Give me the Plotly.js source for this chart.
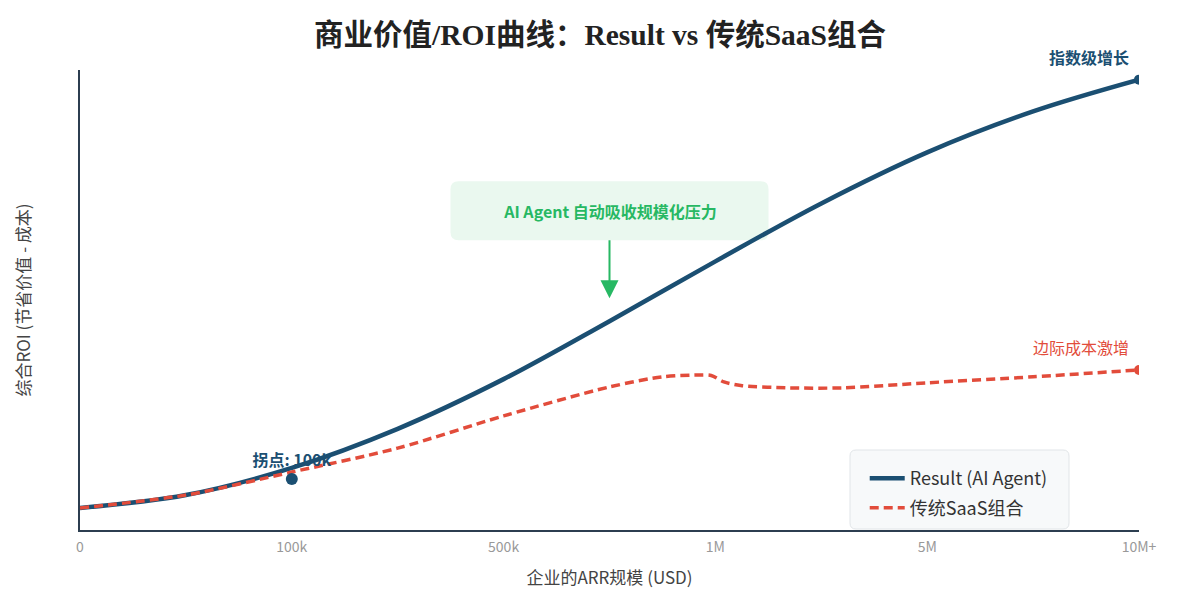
<!DOCTYPE html>
<html><head><meta charset="utf-8">
<script src="https://cdn.plot.ly/plotly-3.0.1.min.js"></script>
<style>html,body{margin:0;padding:0;background:#fff}#chart{width:1200px;height:600px}</style>
</head><body><div id="chart"></div>
<script>
const tickPos = [0, 1, 2, 3, 4, 5];
const tickLabels = ['0', '100k', '500k', '1M', '5M', '10M+'];
const resultX = [0, 0.5, 1, 1.5, 2, 2.5, 3, 3.5, 4, 4.5, 5];
const resultY = [4.8, 7.6, 13.5, 22.0, 32.8, 45.4, 58.4, 71.0, 82.1, 91.0, 97.9];
const saasX = [0, 0.5, 1, 1.5, 2, 2.5, 2.75, 2.92, 2.98, 3.04, 3.12, 3.35, 3.6, 4, 4.5, 5];
const saasY = [4.8, 7.6, 12.6, 17.8, 24.8, 31.1, 33.3, 33.7, 33.6, 32.2, 31.4, 30.9, 30.9, 32.0, 33.3, 34.8];
const pivotX = [1], pivotY = [11.1], pivotLabel = ['拐点: 100k'];
const endLabelResult = '指数级增长', endLabelSaas = '边际成本激增';
const calloutText = 'AI Agent 自动吸收规模化压力';
const calloutX = 2.5, calloutY = 50.4;

const BLUE = '#1b4f72', RED = '#e24c3b', GREEN = '#27b863';
const FONT = 'Noto Sans CJK SC, Noto Sans, sans-serif';

const traces = [
  {x: resultX, y: resultY, mode: 'lines', name: 'Result (AI Agent)', legendgroup: 'a',
   line: {color: BLUE, width: 4.5, shape: 'spline', smoothing: 1}},
  {x: saasX, y: saasY, mode: 'lines', name: '传统SaaS组合', legendgroup: 'b',
   line: {color: RED, width: 3.5, shape: 'spline', smoothing: 0.8, dash: '9px,5px'}},
  {x: [resultX[resultX.length-1]], y: [resultY[resultY.length-1]], mode: 'markers', showlegend: false, marker: {color: BLUE, size: 10}},
  {x: [saasX[saasX.length-1]], y: [saasY[saasY.length-1]], mode: 'markers', showlegend: false, marker: {color: RED, size: 10}},
  {x: pivotX, y: pivotY, mode: 'markers+text', text: pivotLabel, textposition: 'top center', showlegend: false,
   marker: {color: BLUE, size: 12}, textfont: {family: FONT, size: 16, color: BLUE, weight: 'bold'}}
];

const layout = {
  width: 1200, height: 600,
  margin: {l: 80, r: 61, t: 70, b: 70},
  paper_bgcolor: '#fff', plot_bgcolor: '#fff',
  font: {family: FONT, color: '#444'},
  title: {text: '<b>商业价值/ROI曲线：Result vs 传统SaaS组合</b>', x: 0.5, xanchor: 'center', y: 0.942, yanchor: 'middle',
          font: {family: 'Liberation Serif, DejaVu Serif, Noto Sans CJK SC, serif', size: 29.5, color: '#222'}},
  xaxis: {range: [0, 5], tickvals: tickPos, ticktext: tickLabels, showgrid: false, zeroline: false,
          showline: true, linecolor: '#2c3e50', linewidth: 2, ticks: '', tickfont: {size: 14, color: '#999'},
          ticklabelstandoff: 3,
          title: {text: '企业的ARR规模 (USD)', font: {size: 17, color: '#444'}, standoff: 17}},
  yaxis: {range: [0, 100], showticklabels: false, showgrid: false, zeroline: false, ticks: '',
          showline: true, linecolor: '#2c3e50', linewidth: 2,
          title: {text: '综合ROI (节省价值 - 成本)', font: {size: 17, color: '#444'}, standoff: 43}},
  legend: {x: 0.741, y: 0.152, xanchor: 'left', yanchor: 'top', bgcolor: 'rgba(0,0,0,0)', borderwidth: 0,
           font: {size: 18, color: '#333'}, itemwidth: 35, tracegroupgap: 3, traceorder: 'grouped'},
  shapes: [
    {type: 'path', xref: 'paper', yref: 'paper', xsizemode: 'pixel', ysizemode: 'pixel', xanchor: 1, yanchor: 0,
     layer: 'above', fillcolor: '#f7f9fa', line: {color: '#e1e5e8', width: 1},
     path: 'M -283,1 L -76,1 Q -70,1 -70,7 L -70,74 Q -70,80 -76,80 L -283,80 Q -289,80 -289,74 L -289,7 Q -289,1 -283,1 Z'},
    {type: 'path', xref: 'x', yref: 'y', xsizemode: 'pixel', ysizemode: 'pixel', xanchor: calloutX, yanchor: calloutY,
     layer: 'below', fillcolor: '#eaf8ef', line: {width: 0},
     path: 'M -151,58 L 151,58 Q 159,58 159,66 L 159,109 Q 159,117 151,117 L -151,117 Q -159,117 -159,109 L -159,66 Q -159,58 -151,58 Z'}
  ],
  annotations: [
    {x: 5, y: resultY[resultY.length-1], xref: 'x', yref: 'y', text: '<b>' + endLabelResult + '</b>', showarrow: false,
     xanchor: 'right', yanchor: 'bottom', xshift: -8, yshift: 9, font: {size: 16, color: BLUE}},
    {x: 5, y: saasY[saasY.length-1], xref: 'x', yref: 'y', text: endLabelSaas, showarrow: false,
     xanchor: 'right', yanchor: 'bottom', xshift: -8, yshift: 9, font: {size: 16, color: RED}},
    {x: calloutX, y: calloutY, xref: 'x', yref: 'y', text: '<b>' + calloutText + '</b>', showarrow: true,
     ax: 0, ay: -87, arrowcolor: GREEN, arrowwidth: 2, arrowhead: 2, arrowsize: 1.8,
     bgcolor: 'rgba(0,0,0,0)', borderwidth: 0, borderpad: 0, width: 318, height: 58,
     font: {size: 16, color: GREEN}}
  ]
};
Plotly.newPlot('chart', traces, layout, {displayModeBar: false, staticPlot: true});
</script></body></html>
